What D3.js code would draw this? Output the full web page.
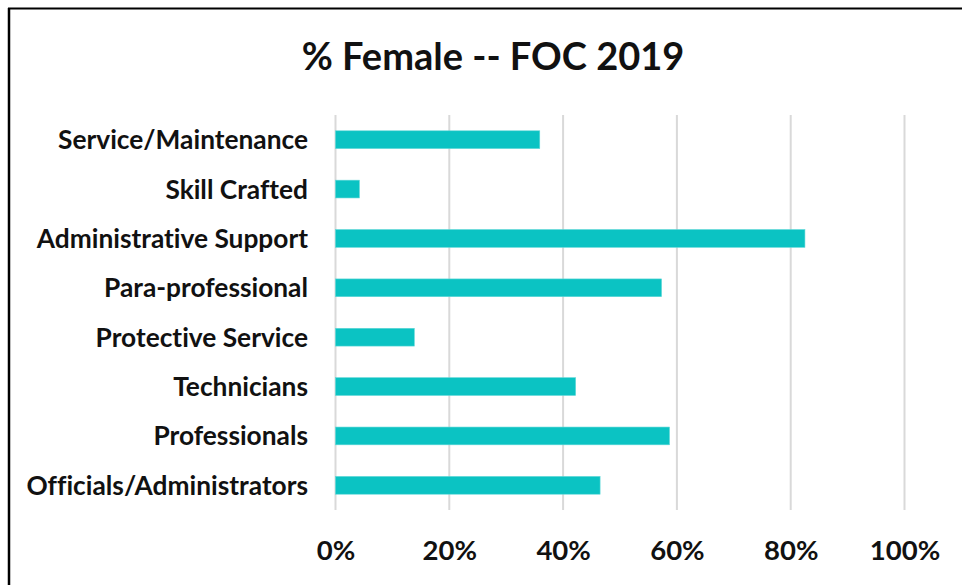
<!DOCTYPE html>
<html><head><meta charset="utf-8">
<script src="https://cdn.jsdelivr.net/npm/d3@7"></script>
<style>html,body{margin:0;padding:0;background:#fff;overflow:hidden} text{font-variant-ligatures:none;font-feature-settings:"liga" 0}</style>
</head><body>
<svg id="c" width="962" height="585"></svg>
<script>
const titleText = "% Female -- FOC 2019";
const categories = ["Service/Maintenance","Skill Crafted","Administrative Support","Para-professional","Protective Service","Technicians","Professionals","Officials/Administrators"];
const femaleShare = [0.359,0.042,0.825,0.573,0.1385,0.422,0.587,0.465];
const tickValues = [0,0.2,0.4,0.6,0.8,1.0];

const svg = d3.select("#c");
const FONT = "Lato, 'Open Sans', sans-serif";

// frame
svg.append("rect").attr("x",0).attr("y",0).attr("width",962).attr("height",585).attr("fill","#fff");
svg.append("line").attr("x1",9).attr("x2",9).attr("y1",8).attr("y2",585).attr("stroke","#000").attr("stroke-width",2.5);
svg.append("line").attr("x1",8).attr("x2",962).attr("y1",8.5).attr("y2",8.5).attr("stroke","#000").attr("stroke-width",2);

const x = d3.scaleLinear().domain([0,1]).range([335.5,904.5]);
const y = d3.scaleBand().domain(categories).range([115,510]).paddingInner(0.64).paddingOuter(0.32);

// gridlines
svg.append("g").selectAll("line").data(tickValues).join("line")
  .attr("x1",d=>x(d)).attr("x2",d=>x(d)).attr("y1",115).attr("y2",510)
  .attr("stroke","#d9d9d9").attr("stroke-width",2);

// bars
svg.append("g").selectAll("rect").data(categories).join("rect")
  .attr("x",x(0)).attr("y",d=>y(d))
  .attr("width",(d,i)=>x(femaleShare[i])-x(0)).attr("height",y.bandwidth())
  .attr("fill","#0bc3c3").attr("stroke","#5fd8d8").attr("stroke-width",0.6);

// category axis
const yAxis = d3.axisLeft(y).tickSize(0).tickPadding(0);
const gy = svg.append("g").attr("transform","translate(308,0)").call(yAxis);
gy.select(".domain").remove();
gy.selectAll("text").attr("font-family",FONT).attr("font-weight","bold").attr("font-size",26.3).attr("fill","#111").attr("dy","0.36em");

// value axis
const xAxis = d3.axisBottom(x).tickValues(tickValues).tickFormat(d3.format(".0%")).tickSize(0).tickPadding(0);
const gx = svg.append("g").attr("transform","translate(0,540)").call(xAxis);
gx.select(".domain").remove();
gx.selectAll("text").attr("font-family",FONT).attr("font-weight","bold").attr("font-size",27.5).attr("fill","#111").attr("dy","0.74em");

// title
svg.append("text").attr("x",493).attr("y",69.5).attr("text-anchor","middle")
  .attr("font-family",FONT).attr("font-weight","bold").attr("font-size",38).attr("fill","#111").text(titleText);
</script>
</body></html>
